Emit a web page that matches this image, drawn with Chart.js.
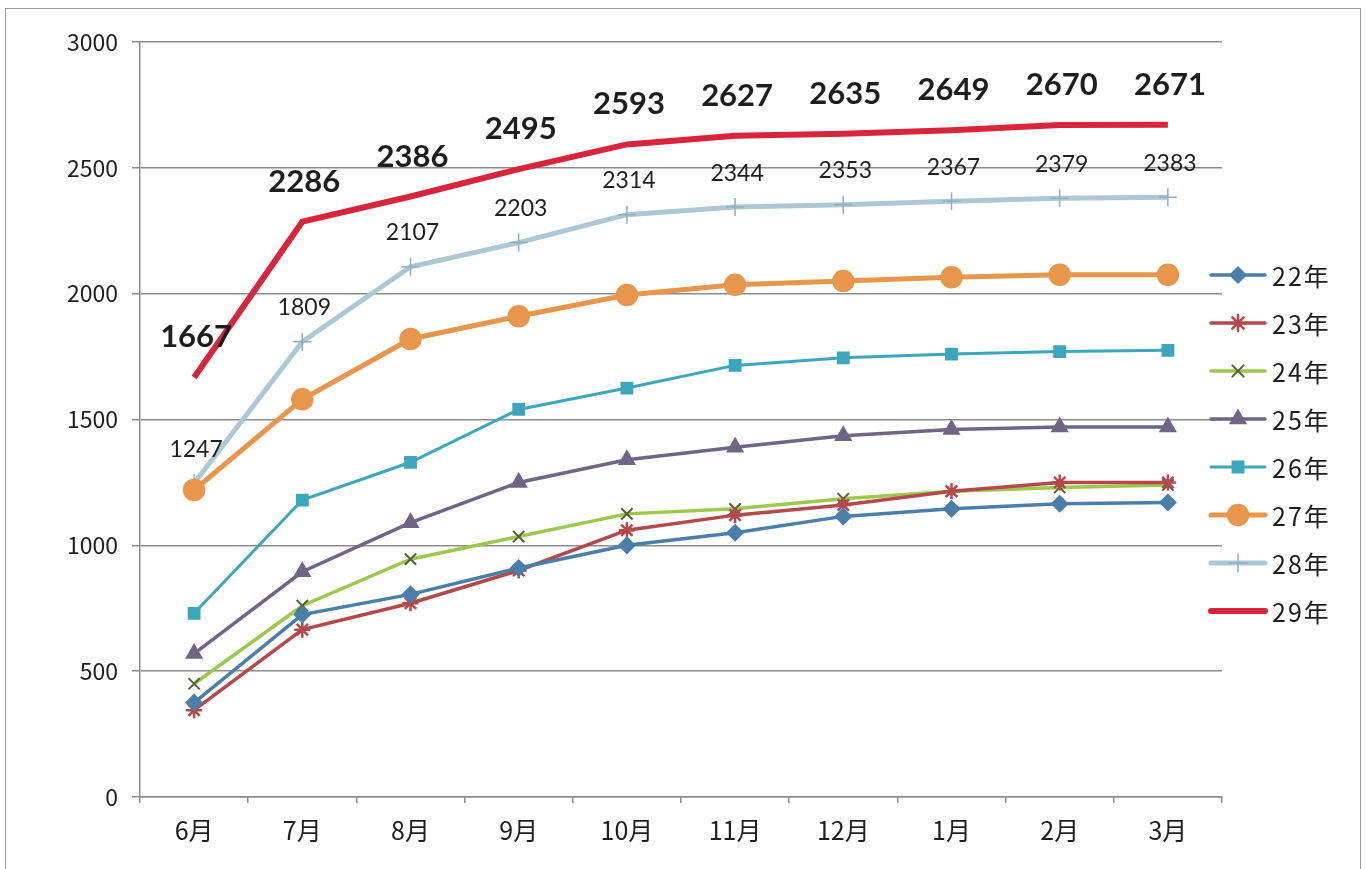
<!DOCTYPE html>
<html>
<head>
<meta charset="utf-8">
<script src="https://cdn.jsdelivr.net/npm/chart.js@4/dist/chart.umd.min.js"></script>
<style>
  html,body{margin:0;padding:0;background:#fff;}
  #wrap{position:relative;width:1366px;height:869px;overflow:hidden;}
  #frame{position:absolute;left:5px;top:8px;width:1356px;height:900px;border:1.5px solid #9a9a9a;box-sizing:border-box;}
  #cv{position:absolute;left:0;top:0;}
</style>
</head>
<body>
<div id="wrap">
  <div id="frame"></div>
  <canvas id="cv" width="1366" height="869"></canvas>
</div>
<script>
/* ===== 月別累計グラフ ===== */
const months = ['6月','7月','8月','9月','10月','11月','12月','1月','2月','3月'];
const years  = ['22年','23年','24年','25年','26年','27年','28年','29年'];

const s22 = [375, 725, 805, 910,1000,1050,1115,1145,1165,1170];
const s23 = [345, 665, 770, 900,1060,1120,1160,1215,1250,1250];
const s24 = [450, 760, 945,1035,1125,1145,1185,1215,1230,1240];
const s25 = [570, 895,1090,1250,1340,1390,1435,1460,1470,1470];
const s26 = [730,1180,1330,1540,1625,1715,1745,1760,1770,1775];
const s27 = [1220,1580,1820,1910,1995,2035,2050,2065,2075,2075];
const s28 = [1247,1809,2107,2203,2314,2344,2353,2367,2379,2383];
const s29 = [1667,2286,2386,2495,2593,2627,2635,2649,2670,2671];

const yTicks = [0,500,1000,1500,2000,2500,3000];

const JP = '"Noto Sans CJK JP","Noto Sans",sans-serif';
const NUM = 'Lato,"Open Sans",sans-serif';

// 線の見た目
const mk = (label, data, col, style, r, bw, extra={}) => ({
  label, data, borderColor: col, backgroundColor: col, borderWidth: bw,
  pointStyle: style, pointRadius: r, pointHoverRadius: r,
  pointBackgroundColor: col, pointBorderColor: col, pointBorderWidth: 1.5,
  tension: 0, ...extra
});

const datasets = [
  mk(years[0], s22, '#4a7eab', 'rectRot', 8, 3.5),
  mk(years[1], s23, '#b5484a', 'star', 8, 3.5, {pointBorderWidth: 2.5}),
  mk(years[2], s24, '#9cc94c', 'crossRot', 8, 3.5, {pointBorderColor: '#55603a', pointBorderWidth: 2}),
  mk(years[3], s25, '#6f6586', 'triangle', 9, 3.5),
  mk(years[4], s26, '#3ba6bd', 'rect', 8, 3),
  mk(years[5], s27, '#e8964b', 'circle', 10.5, 5),
  mk(years[6], s28, '#adc8d4', 'cross', 9, 5, {pointBorderColor: '#8fb0c0', pointBorderWidth: 1.5,
     valueLabel: {font: '400 23px ' + NUM, dy: 34}}),
  mk(years[7], s29, '#d8253c', false, 0, 6, {pointRadius: 0,
     valueLabel: {font: '700 31px ' + NUM, dy: 40}})
];

// 数値ラベル
const valueLabels = {
  id: 'valueLabels',
  afterDatasetsDraw(c){
    const ctx = c.ctx;
    c.data.datasets.forEach((ds, i) => {
      if (!ds.valueLabel) return;
      const meta = c.getDatasetMeta(i);
      ctx.save();
      ctx.font = ds.valueLabel.font;
      ctx.fillStyle = '#1e1e1e';
      ctx.textAlign = 'center';
      ctx.textBaseline = 'middle';
      meta.data.forEach((p, j) => ctx.fillText(String(ds.data[j]), p.x + 2, p.y - ds.valueLabel.dy));
      ctx.restore();
    });
  }
};

// 右側の凡例（線＋マーカー）
const sideLegend = {
  id: 'sideLegend',
  afterDraw(c){
    const ctx = c.ctx, H = Chart.helpers;
    const x0 = 1211, x1 = 1265, top = 275, step = 48;
    c.data.datasets.forEach((ds, i) => {
      const y = top + i*step;
      ctx.save();
      ctx.strokeStyle = ds.borderColor;
      ctx.lineWidth = ds.borderWidth;
      ctx.lineCap = 'round';
      ctx.beginPath(); ctx.moveTo(x0, y); ctx.lineTo(x1, y); ctx.stroke();
      if (ds.pointStyle && H && H.drawPoint) {
        ctx.fillStyle = ds.pointBackgroundColor;
        ctx.strokeStyle = ds.pointBorderColor;
        ctx.lineWidth = ds.pointBorderWidth;
        H.drawPoint(ctx, {pointStyle: ds.pointStyle, radius: ds.pointRadius, borderWidth: ds.pointBorderWidth, rotation: 0}, (x0+x1)/2, y);
      }
      ctx.fillStyle = '#1e1e1e';
      ctx.font = '25px ' + JP;
      ctx.letterSpacing = '2px';
      ctx.textAlign = 'left';
      ctx.textBaseline = 'middle';
      ctx.fillText(ds.label, 1272, y + 1);
      ctx.restore();
    });
  }
};

new Chart(document.getElementById('cv'), {
  type: 'line',
  data: { labels: months, datasets },
  options: {
    responsive: false, animation: false,
    layout: { padding: { top: 42, right: 144, left: 0, bottom: 0 } },
    plugins: { legend: { display: false }, tooltip: { enabled: false } },
    scales: {
      x: {
        offset: true,
        grid: { offset: true, drawOnChartArea: false, drawTicks: true, tickLength: 6, color: '#8c8c8c', lineWidth: 1.5 },
        border: { color: '#8c8c8c', width: 1.5 },
        ticks: { color: '#1e1e1e', font: { family: JP, size: 25 }, padding: 12, maxRotation: 0 },
        afterFit: s => { s.height = 72; }
      },
      y: {
        min: 0, max: 3000,
        afterBuildTicks: s => { s.ticks = yTicks.map(v => ({ value: v })); },
        grid: { color: '#8c8c8c', lineWidth: 1.5, tickLength: 8 },
        border: { color: '#8c8c8c', width: 1.5 },
        ticks: { color: '#1e1e1e', font: { family: JP, size: 23 }, padding: 14, callback: v => String(v) },
        afterFit: s => { s.width = 140; }
      }
    }
  },
  plugins: [valueLabels, sideLegend]
});
</script>
</body>
</html>
